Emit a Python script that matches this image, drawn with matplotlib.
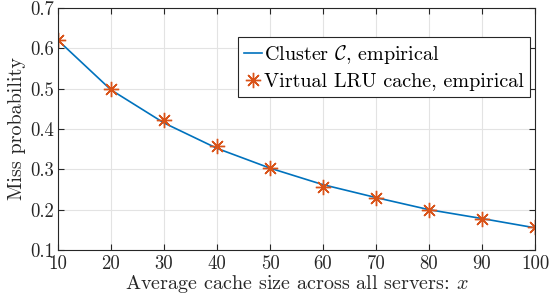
import matplotlib
matplotlib.use("Agg")
import matplotlib.pyplot as plt

# Data
cache_size = [10, 20, 30, 40, 50, 60, 70, 80, 90, 100]
cluster_miss = [0.620, 0.497, 0.415, 0.352, 0.303, 0.262, 0.230, 0.200, 0.178, 0.155]
lru_miss = [0.621, 0.499, 0.422, 0.358, 0.303, 0.257, 0.229, 0.200, 0.177, 0.157]

x_ticks = [10, 20, 30, 40, 50, 60, 70, 80, 90, 100]
y_ticks = [0.1, 0.2, 0.3, 0.4, 0.5, 0.6, 0.7]

plt.rcParams['font.family'] = 'serif'
plt.rcParams['font.serif'] = ['cmr10', 'DejaVu Serif']
plt.rcParams['mathtext.fontset'] = 'cm'
plt.rcParams['axes.formatter.use_mathtext'] = True
fs = 14.5

fig = plt.figure(figsize=(5.5, 3.02), dpi=100)
ax = fig.add_axes([58 / 550, 1 - 250 / 302, (535 - 58) / 550, (250 - 8) / 302])

ax.plot(cache_size, cluster_miss, color='#0072BD', lw=1.2,
        label=r'Cluster $\mathcal{C}$, empirical')
ax.plot(cache_size, lru_miss, linestyle='none', marker=(8, 2, 0), ms=11,
        mew=1.0, color='#D95319', label='Virtual LRU cache, empirical')

ax.set_xlim(10, 100)
ax.set_ylim(0.1, 0.7)
ax.set_xticks(x_ticks)
ax.set_yticks(y_ticks)
ax.set_xticklabels([str(t) for t in x_ticks])
ax.set_yticklabels(['%.1f' % t for t in y_ticks])
ax.grid(True, color='#e3e3e3', lw=0.8)
ax.set_axisbelow(True)
ax.tick_params(direction='in', top=True, right=True, length=4, width=0.8,
               colors='#262626', labelsize=13.5, pad=3)
ax.tick_params(axis='x', pad=4)
for s in ax.spines.values():
    s.set_color('#262626')
    s.set_linewidth(0.8)

ax.set_xlabel(r'Average cache size across all servers: $x$', fontsize=fs,
              color='#262626', labelpad=0)
ax.set_ylabel('Miss probability', fontsize=fs, color='#262626', labelpad=3)

leg = ax.legend(loc='upper right', bbox_to_anchor=(0.99, 0.88), fontsize=fs,
                fancybox=False, edgecolor='#262626', framealpha=1,
                handlelength=0.9, handletextpad=0.1, borderpad=0.3,
                labelspacing=0.35, borderaxespad=0)
leg.get_frame().set_linewidth(0.8)

fig.savefig('out.png', dpi=100)
